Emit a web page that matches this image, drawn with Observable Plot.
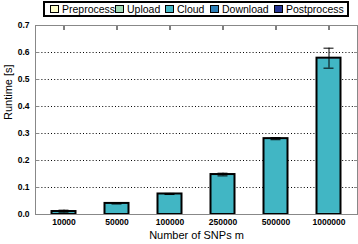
<!DOCTYPE html>
<html><head><meta charset="utf-8">
<script src="https://cdn.jsdelivr.net/npm/d3@7"></script>
<script src="https://cdn.jsdelivr.net/npm/@observablehq/plot@0.6"></script>
<style>
body{margin:0;background:#fff;font-family:"Liberation Sans",Arial,sans-serif;}
#legend{position:relative;height:20px;width:358px;}
#legend .box{position:absolute;left:43px;top:1px;width:302px;height:12px;border:2px solid #000;}
#legend .item{position:absolute;top:0;height:12px;display:flex;align-items:center;gap:3px;font-size:10.5px;color:#000;white-space:nowrap;}
#legend .sw{width:7px;height:6px;border:1px solid #000;}
</style></head>
<body>
<div id="legend"><div class="box"></div></div>
<div id="chart"></div>
<script>
const categories = ["10000","50000","100000","250000","500000","1000000"];
const seriesNames = ["Preprocess","Upload","Cloud","Download","Postprocess"];
const seriesColors = ["#ffffcc","#a1dab4","#41b6c4","#2c7fb8","#253494"];
const preprocess = [0.0005,0.0005,0.0005,0.001,0.001,0.002];
const upload = [0.0005,0.0005,0.0005,0.001,0.001,0.002];
const cloud = [0.009,0.039,0.074,0.145,0.277,0.572];
const download = [0.0005,0.0005,0.0005,0.0005,0.001,0.002];
const postprocess = [0.0005,0.0005,0.0005,0.0005,0.001,0.001];
const errors = [0.005,0.002,0.002,0.005,0.004,0.037];
const yTicks = [0,0.1,0.2,0.3,0.4,0.5,0.6,0.7];
const gridTicks = [0.1,0.2,0.3,0.4,0.5,0.6];

const seriesValues = [preprocess, upload, cloud, download, postprocess];
const long = [];
seriesNames.forEach((s, si) => categories.forEach((c, ci) => long.push({cat: c, series: s, value: seriesValues[si][ci]})));
const totals = categories.map((c, i) => ({cat: c, total: seriesValues.reduce((a, arr) => a + arr[i], 0), err: errors[i]}));

// legend (item left offsets inside the box)
const legendLeft = [5, 70, 120, 165, 229];
const box = document.querySelector("#legend .box");
seriesNames.forEach((s, i) => {
  const it = document.createElement("div"); it.className = "item"; it.style.left = legendLeft[i] + "px";
  const sw = document.createElement("div"); sw.className = "sw"; sw.style.background = seriesColors[i];
  const t = document.createElement("span"); t.textContent = s;
  it.appendChild(sw); it.appendChild(t); box.appendChild(it);
});

const chart = Plot.plot({
  width: 358, height: 224,
  marginLeft: 35, marginRight: 1, marginTop: 5, marginBottom: 30,
  style: {fontFamily: '"Liberation Sans", Arial, sans-serif', fontSize: "8.5px", color: "#000", background: "#fff"},
  x: {type: "band", domain: categories, padding: 0},
  y: {domain: [0, 0.7]},
  color: {domain: seriesNames, range: seriesColors},
  marks: [
    Plot.ruleY(gridTicks, {stroke: "#000", strokeDasharray: "1,2.2", strokeWidth: 1}),
    Plot.barY(long, {x: "cat", y: "value", fill: "series", insetLeft: 14.5, insetRight: 14.5}),
    Plot.barY(totals, {x: "cat", y: "total", fill: "none", stroke: "#000", strokeWidth: 2, insetLeft: 14.5, insetRight: 14.5}),
    Plot.ruleX(totals, {x: "cat", y1: d => d.total - d.err, y2: d => d.total + d.err, stroke: "#000", strokeWidth: 1}),
    Plot.tickY(totals, {x: "cat", y: d => d.total - d.err, stroke: "#000", insetLeft: 21.5, insetRight: 21.5}),
    Plot.tickY(totals, {x: "cat", y: d => d.total + d.err, stroke: "#000", insetLeft: 21.5, insetRight: 21.5}),
    Plot.frame({stroke: "#888", strokeWidth: 1}),
    Plot.axisX({anchor: "top", text: null, tickSize: 4, dy: 4, stroke: "#000", label: null}),
    Plot.axisX({anchor: "bottom", tickSize: 0, tickPadding: 4, label: null, fontWeight: "bold"}),
    Plot.axisY({anchor: "left", ticks: yTicks, tickSize: 0, tickPadding: 6, tickFormat: d3.format(".1f"), label: null, fontWeight: "bold"}),
    Plot.axisY({anchor: "left", ticks: yTicks, text: null, tickSize: 4, dx: 4, stroke: "#888", label: null}),
    Plot.axisY({anchor: "right", ticks: yTicks, text: null, tickSize: 4, dx: -4, stroke: "#888", label: null}),
    Plot.text(["Runtime [s]"], {frameAnchor: "left", dx: -27, rotate: -90, fontSize: 11}),
    Plot.text(["Number of SNPs m"], {frameAnchor: "bottom", dy: 24, fontSize: 11})
  ]
});
document.getElementById("chart").appendChild(chart);
</script>
</body></html>
